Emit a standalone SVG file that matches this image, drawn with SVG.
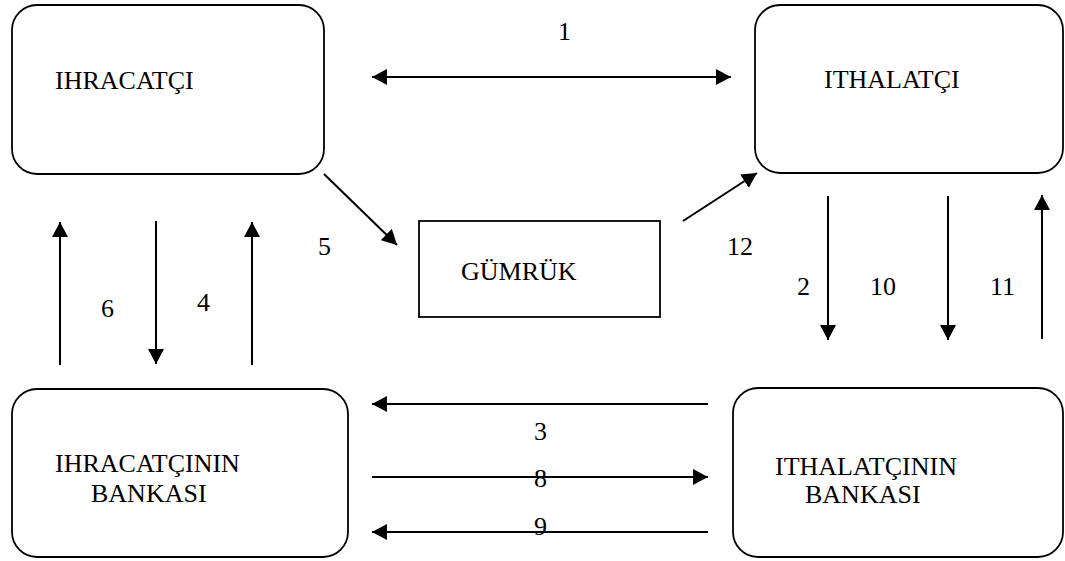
<svg xmlns="http://www.w3.org/2000/svg" width="1065" height="561" viewBox="0 0 1065 561">
<style>
.box{fill:#fff;stroke:#000;stroke-width:1.8}
.c{stroke:#000;stroke-width:2;fill:none}
</style>
<defs>
<marker id="ah" markerWidth="15" markerHeight="16" refX="15" refY="8" orient="auto-start-reverse" markerUnits="userSpaceOnUse">
<path d="M0,0 L15,8 L0,16 Z" fill="#000"/>
</marker>
</defs>
<rect width="1065" height="561" fill="#fff"/>
<g font-family="Liberation Serif" font-size="26" fill="#000">
<g id="ihracatci">
<rect class="box" x="12" y="5" width="312" height="169" rx="25" ry="25"/>
<text x="55" y="89">IHRACATÇI</text>
</g>
<g id="ithalatci">
<rect class="box" x="755" y="5" width="308" height="168" rx="25" ry="25"/>
<text x="824" y="88">ITHALATÇI</text>
</g>
<g id="gumruk">
<rect class="box" x="419" y="221" width="241" height="96"/>
<text x="461" y="280">GÜMRÜK</text>
</g>
<g id="ihracatcinin-bankasi">
<rect class="box" x="12" y="389" width="336" height="168" rx="25" ry="25"/>
<text x="55" y="472">IHRACATÇININ</text>
<text x="91" y="502">BANKASI</text>
</g>
<g id="ithalatcinin-bankasi">
<rect class="box" x="733" y="388" width="330" height="169" rx="25" ry="25"/>
<text x="775" y="475">ITHALATÇININ</text>
<text x="805" y="503">BANKASI</text>
</g>
<g id="connectors">
<line class="c" x1="372" y1="77" x2="731" y2="77" marker-start="url(#ah)" marker-end="url(#ah)"/>
<line class="c" x1="324" y1="174" x2="397" y2="245" marker-end="url(#ah)"/>
<line class="c" x1="683" y1="221" x2="757" y2="173" marker-end="url(#ah)"/>
<line class="c" x1="60" y1="365" x2="60" y2="222" marker-end="url(#ah)"/>
<line class="c" x1="156" y1="221" x2="156" y2="364" marker-end="url(#ah)"/>
<line class="c" x1="252" y1="365" x2="252" y2="222" marker-end="url(#ah)"/>
<line class="c" x1="828" y1="196" x2="828" y2="340" marker-end="url(#ah)"/>
<line class="c" x1="948" y1="196" x2="948" y2="340" marker-end="url(#ah)"/>
<line class="c" x1="1042" y1="339" x2="1042" y2="195" marker-end="url(#ah)"/>
<line class="c" x1="708" y1="404" x2="372" y2="404" marker-end="url(#ah)"/>
<line class="c" x1="372" y1="477" x2="708" y2="477" marker-end="url(#ah)"/>
<line class="c" x1="708" y1="532" x2="372" y2="532" marker-end="url(#ah)"/>
</g>
<g id="labels">
<text x="558" y="40">1</text>
<text x="318" y="255">5</text>
<text x="727" y="255">12</text>
<text x="101" y="317">6</text>
<text x="197" y="311">4</text>
<text x="797" y="295">2</text>
<text x="870" y="295">10</text>
<text x="990" y="295">11</text>
<text x="534" y="440">3</text>
<text x="534" y="487">8</text>
<text x="534" y="535">9</text>
</g>
</g>
</svg>
